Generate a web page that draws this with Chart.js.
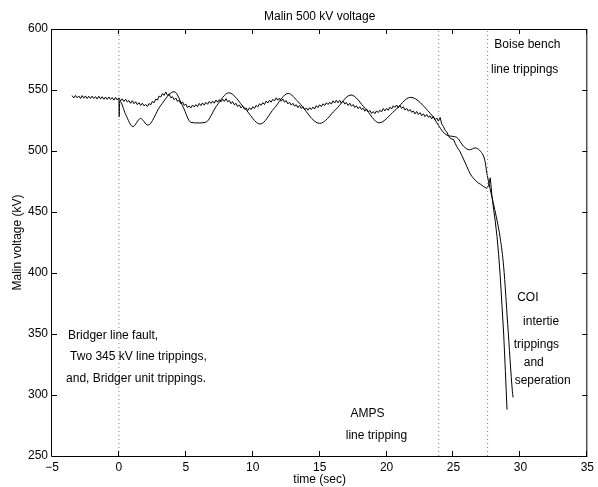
<!DOCTYPE html>
<html>
<head>
<meta charset="utf-8">
<script src="https://cdn.jsdelivr.net/npm/chart.js@4.4.0/dist/chart.umd.min.js"></script>
<style>
  html, body { margin: 0; padding: 0; background: #fff; }
</style>
</head>
<body>
<canvas id="chart" width="598" height="487"></canvas>
<script>
// measured Malin 500 kV bus voltage, one sample every 0.125 s from -3.5 s
var measStart = -3.5;
var measStep = 0.125;
var measuredKV = [
  545.4, 543.5, 545.5, 543.6, 545.1, 543.0, 545.4, 543.3,
  545.1, 543.0, 544.9, 543.0, 545.0, 543.1, 544.6, 542.6,
  544.9, 542.7, 544.5, 542.4, 544.3, 542.3, 544.3, 542.3,
  543.8, 541.7, 544.0, 541.8, 543.5, 541.1, 542.8, 540.6,
  542.4, 540.2, 541.4, 539.1, 541.2, 538.8, 540.4, 538.0,
  539.6, 537.4, 539.2, 537.0, 538.2, 536.4, 538.9, 537.8,
  540.6, 539.5, 542.5, 541.8, 545.0, 544.3, 547.1, 545.6,
  548.4, 545.6, 546.8, 543.6, 544.5, 542.0, 543.4, 540.7,
  541.5, 538.7, 540.3, 537.4, 538.5, 535.7, 536.9, 535.3,
  537.7, 536.1, 538.0, 536.3, 539.0, 537.2, 539.4, 537.6,
  539.9, 538.3, 540.6, 539.0, 540.9, 539.2, 541.8, 540.0,
  542.1, 540.3, 542.5, 540.7, 542.9, 540.4, 541.4, 538.8,
  540.5, 537.8, 539.1, 536.4, 537.8, 535.3, 536.8, 534.3,
  535.3, 533.2, 535.4, 533.9, 536.3, 534.8, 537.4, 536.1,
  538.7, 537.4, 539.6, 538.1, 540.9, 539.3, 541.6, 540.0,
  542.4, 541.0, 543.6, 541.7, 543.3, 540.8, 542.6, 540.0,
  541.3, 538.6, 540.0, 537.6, 539.1, 536.8, 537.9, 535.5,
  537.4, 534.9, 536.3, 533.8, 535.3, 533.4, 535.5, 534.0,
  536.0, 534.4, 537.2, 535.6, 537.9, 536.3, 538.7, 537.2,
  539.6, 538.1, 540.0, 538.4, 541.1, 539.4, 541.6, 539.5,
  541.5, 539.2, 540.9, 538.6, 539.7, 537.3, 539.2, 536.7,
  538.1, 535.6, 537.1, 534.7, 536.3, 534.0, 535.1, 532.6,
  534.5, 531.9, 533.3, 530.8, 532.3, 530.6, 532.9, 531.5,
  533.5, 532.0, 534.8, 532.9, 535.0, 533.4, 535.9, 534.5,
  537.1, 535.7, 537.7, 535.4, 537.4, 534.9, 536.3, 533.6,
  535.0, 532.6, 534.1, 531.7, 532.8, 530.4, 532.4, 529.9,
  531.4, 528.9, 530.5, 528.2, 529.9, 527.6, 528.8, 526.4,
  528.3, 525.7, 527.1, 524.5, 527.5, 522.0, 520.0, 517.0,
  515.5, 512.5, 510.5, 509.8, 509.5, 506.3, 503.5, 501.4,
  499.3, 496.2, 493.4, 490.2, 487.3, 484.1, 481.2, 479.2,
  477.6, 476.1, 474.7, 473.6, 472.9, 471.8, 470.9, 470.1,
  469.4, 472.0, 478.0, 463.0, 452.0, 442.0, 430.0, 415.0,
  396.0, 373.0, 350.0, 320.0, 288.0
];

// simulated response
var simTime = [0, 0.02, 0.06, 0.5, 1.05, 1.61, 2.16, 3.1, 4.13, 4.8,
  5.37, 5.9, 6.48, 7.3, 8.21, 9.4, 10.56, 11.6, 12.65, 13.39,
  15.0, 16.2, 17.34, 18.4, 19.44, 20.6, 21.79, 23.27, 24.5, 25.24,
  25.74, 26.2, 26.6, 27.0, 27.34, 27.5, 27.96, 28.2, 28.5, 28.75,
  29.05, 29.4, 29.45];
var simKV = [543, 528, 541, 530, 520, 526.7, 521.2, 537, 548.6, 536,
  523.5, 523, 523.5, 537, 547.7, 535, 522.1, 535, 547.2, 540.4,
  522.6, 534, 545.9, 535, 523.1, 533, 544, 530.8, 513, 511.2,
  504, 501, 502.5, 500, 492.5, 481.6, 458, 446, 428, 405,
  358, 303, 298];

// event times (dotted verticals)
var eventTimes = [0, 23.9, 27.55];

var xTicks = [-5, 0, 5, 10, 15, 20, 25, 30, 35];
var yTicks = [250, 300, 350, 400, 450, 500, 550, 600];

var notes = [
  { t: -3.8, v: 349, text: "Bridger line fault," },
  { t: -3.65, v: 331.5, text: "Two 345 kV line trippings," },
  { t: -3.95, v: 313.5, text: "and, Bridger unit trippings." },
  { t: 17.3, v: 285, text: "AMPS" },
  { t: 16.95, v: 267, text: "line tripping" },
  { t: 28.05, v: 587, text: "Boise bench" },
  { t: 27.8, v: 567, text: "line trippings" },
  { t: 29.76, v: 379.5, text: "COI" },
  { t: 30.2, v: 360.5, text: "intertie" },
  { t: 29.5, v: 341.5, text: "trippings" },
  { t: 30.25, v: 326.5, text: "and" },
  { t: 29.57, v: 312, text: "seperation" }
];

var FONT = "'Liberation Sans', Arial, Helvetica, sans-serif";
Chart.defaults.font.family = FONT;
Chart.defaults.color = "#000";

var measured = measuredKV.map(function (v, i) {
  return { x: measStart + i * measStep, y: v };
});
var simulated = simKV.map(function (v, i) {
  return { x: simTime[i], y: v };
});

var datasets = eventTimes.map(function (t) {
  return {
    data: [{ x: t, y: 250 }, { x: t, y: 600 }],
    borderColor: "#808080",
    borderWidth: 1,
    borderDash: [1, 3],
    pointRadius: 0
  };
});
datasets.push({
  data: measured,
  borderColor: "#000",
  borderWidth: 1,
  pointRadius: 0,
  tension: 0
});
datasets.push({
  data: simulated,
  borderColor: "#000",
  borderWidth: 1,
  pointRadius: 0,
  cubicInterpolationMode: "monotone"
});

// box around the axes with inward ticks on every side
var axesBox = {
  id: "axesBox",
  afterDatasetsDraw: function (chart) {
    var ctx = chart.ctx, a = chart.chartArea;
    var xs = chart.scales.x, ys = chart.scales.y;
    var len = 5;
    ctx.save();
    ctx.strokeStyle = "#000";
    ctx.lineWidth = 1;
    ctx.beginPath();
    ctx.rect(a.left - 0.5, a.top + 0.5, a.right - a.left, a.bottom - a.top);
    xTicks.forEach(function (t) {
      var px = Math.round(xs.getPixelForValue(t)) - 0.5;
      ctx.moveTo(px, a.bottom);
      ctx.lineTo(px, a.bottom - len);
      ctx.moveTo(px, a.top);
      ctx.lineTo(px, a.top + len);
    });
    yTicks.forEach(function (v) {
      var py = Math.round(ys.getPixelForValue(v)) + 0.5;
      ctx.moveTo(a.left, py);
      ctx.lineTo(a.left + len, py);
      ctx.moveTo(a.right, py);
      ctx.lineTo(a.right - len, py);
    });
    ctx.stroke();

    ctx.fillStyle = "#000";
    ctx.font = "12px " + FONT;
    ctx.textAlign = "left";
    ctx.textBaseline = "middle";
    notes.forEach(function (n) {
      ctx.fillText(n.text, xs.getPixelForValue(n.t), ys.getPixelForValue(n.v));
    });
    ctx.restore();
  }
};

new Chart(document.getElementById("chart"), {
  type: "line",
  data: { datasets: datasets },
  plugins: [axesBox],
  options: {
    responsive: false,
    animation: false,
    events: [],
    layout: { padding: { left: 0, right: 6, top: 0, bottom: 0 } },
    plugins: {
      legend: { display: false },
      tooltip: { enabled: false },
      title: {
        display: true,
        text: "Malin 500 kV voltage",
        fullSize: false,
        color: "#000",
        font: { size: 12, weight: "normal" },
        padding: { top: 9, bottom: 5.6 }
      }
    },
    scales: {
      x: {
        type: "linear",
        min: -5,
        max: 35,
        afterBuildTicks: function (s) {
          s.ticks = xTicks.map(function (v) { return { value: v }; });
        },
        ticks: {
          color: "#000",
          font: { size: 12 },
          padding: 4,
          maxRotation: 0,
          autoSkip: false,
          callback: function (v) { return v < 0 ? "\u2212" + Math.abs(v) : String(v); }
        },
        grid: { display: false, drawTicks: false },
        border: { display: false },
        title: {
          display: true,
          text: "time (sec)",
          color: "#000",
          font: { size: 12 },
          padding: { top: 1, bottom: 0 }
        },
        afterFit: function (s) { s.height = 31; }
      },
      y: {
        min: 250,
        max: 600,
        afterBuildTicks: function (s) {
          s.ticks = yTicks.map(function (v) { return { value: v }; });
        },
        ticks: {
          color: "#000",
          font: { size: 12 },
          padding: 4
        },
        grid: { display: false, drawTicks: false },
        border: { display: false },
        title: {
          display: true,
          text: "Malin voltage (kV)",
          color: "#000",
          font: { size: 12 },
          padding: { top: 10, bottom: 0 }
        },
        afterFit: function (s) { s.width = 52; }
      }
    }
  }
});
</script>
</body>
</html>
